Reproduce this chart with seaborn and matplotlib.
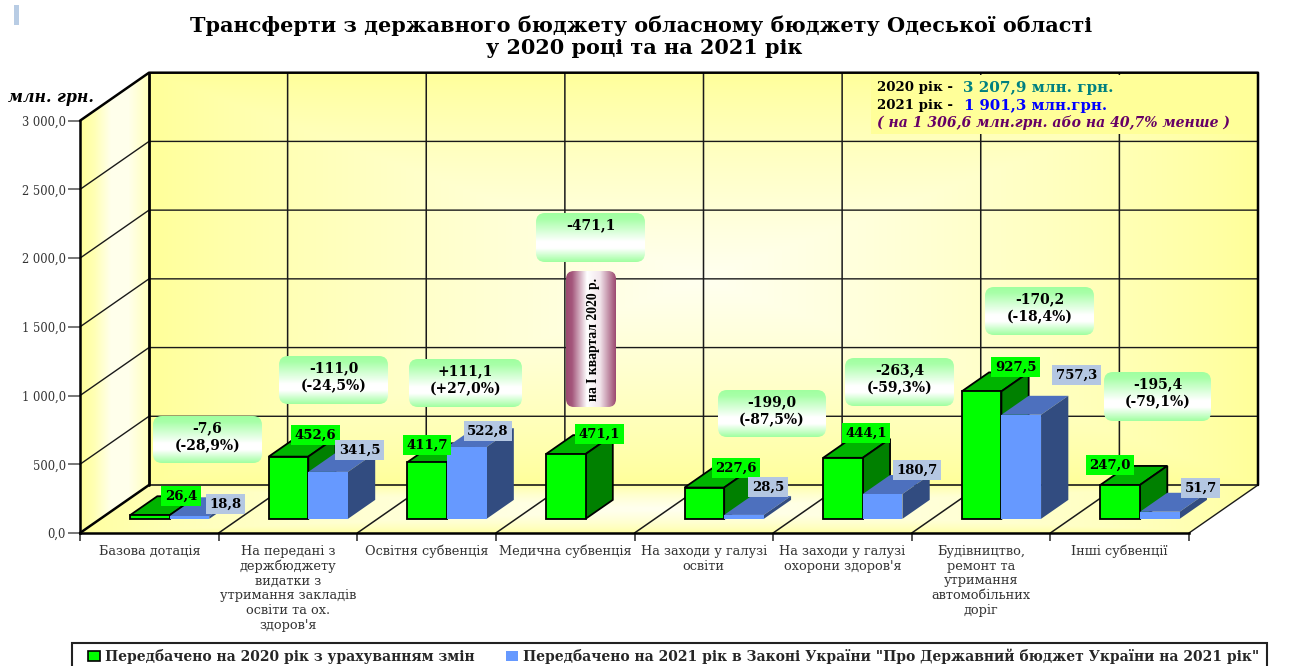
import numpy as np
import pandas as pd
import matplotlib
matplotlib.use("Agg")
import matplotlib.pyplot as plt
from matplotlib.colors import LinearSegmentedColormap
from matplotlib.patches import Polygon, FancyBboxPatch, Rectangle, Patch
import seaborn as sns

# ---------- data ----------
categories = [
    "Базова дотація",
    "На передані з\nдержбюджету\nвидатки з\nутримання закладів\nосвіти та ох.\nздоров'я",
    "Освітня субвенція",
    "Медична субвенція",
    "На заходи у галузі\nосвіти",
    "На заходи у галузі\nохорони здоров'я",
    "Будівництво,\nремонт та\nутримання\nавтомобільних\nдоріг",
    "Інші субвенції",
]
series_2020 = [26.4, 452.6, 411.7, 471.1, 227.6, 444.1, 927.5, 247.0]
series_2021 = [18.8, 341.5, 522.8, np.nan, 28.5, 180.7, 757.3, 51.7]
name_2020 = "Передбачено на 2020 рік з урахуванням змін"
name_2021 = 'Передбачено на 2021 рік в Законі України "Про Державний бюджет України на 2021 рік"'
y_ticks = [0, 500, 1000, 1500, 2000, 2500, 3000]
changes = ["-7,6\n(-28,9%)", "-111,0\n(-24,5%)", "+111,1\n(+27,0%)", "-471,1",
           "-199,0\n(-87,5%)", "-263,4\n(-59,3%)", "-170,2\n(-18,4%)", "-195,4\n(-79,1%)"]

# ---------- layout (pixels of the 1293x666 canvas) ----------
W, H = 1293, 666
AX_L, AX_R, AX_B, AX_T = 80, 1189, 533, 120.7
label_xy_2020 = [(181, 496), (315.5, 435), (427, 445), (599.5, 434),
                 (736, 468), (866, 433), (1015.5, 367), (1110, 465)]
label_xy_2021 = [(225.5, 504), (359.5, 450), (488, 431), None,
                 (768, 487), (917, 470), (1076.5, 375), (1200.5, 488)]
change_boxes = [(153, 416, 262, 463), (279, 356, 388, 404), (409, 359, 522, 407), (536, 213, 645, 262),
                (718, 390, 826, 437), (845, 358, 954, 406), (985, 287, 1094, 335), (1104, 372, 1211, 421)]

sns.set_theme(style="white")
plt.rcParams["font.family"] = ["DejaVu Serif"]

fig = plt.figure(figsize=(W / 100, H / 100), dpi=100, facecolor="white")
ax = fig.add_axes([AX_L / W, 1 - AX_B / H, (AX_R - AX_L) / W, (AX_B - AX_T) / H])
ax.patch.set_visible(False)

GREEN, BLUE = "#00FF00", "#6699FF"
df = pd.DataFrame({
    "cat": categories * 2,
    "val": series_2020 + series_2021,
    "ser": [name_2020] * 8 + [name_2021] * 8,
})
sns.barplot(data=df, x="cat", y="val", hue="ser", order=categories, hue_order=[name_2020, name_2021],
            palette=[GREEN, BLUE], width=0.572, errorbar=None, saturation=1, legend=False, ax=ax)

XMIN, XMAX, YMAX = -0.5, 7.5, 3000
DX = 69 / ((AX_R - AX_L) / 8)           # depth in category units
DY = 48 / ((AX_B - AX_T) / YMAX)        # depth in value units
D0, D1 = 0.295, 0.69                    # bar front and back depth


def wall(extent, grid, clip_pts, z=0):
    cmap = LinearSegmentedColormap.from_list("w", ["#FFFF99", "#FFFFF0"])
    im = ax.imshow(grid, extent=extent, origin="lower", aspect="auto", cmap=cmap, vmin=0, vmax=1,
                   zorder=z, interpolation="bilinear")
    poly = Polygon(clip_pts, closed=True, transform=ax.transData)
    im.set_clip_path(poly)
    im.set_clip_box(fig.bbox)


def path_grad(n=200, p=0.8):
    u = 1 - np.abs(np.linspace(-1, 1, n))
    uu, vv = np.meshgrid(u, u)
    return np.minimum(uu, vv) ** p


# back wall, side wall, floor
wall((XMIN + DX, XMAX + DX, DY, YMAX + DY), path_grad(),
     [(XMIN + DX, DY), (XMAX + DX, DY), (XMAX + DX, YMAX + DY), (XMIN + DX, YMAX + DY)])
side = np.tile(np.interp(np.linspace(0, 1, 100), [0, .2, .45, .7, .9, 1], [0.0, .3, .95, .95, .6, .4]), (2, 1))
wall((XMIN, XMIN + DX, 0, YMAX + DY), side,
     [(XMIN, 0), (XMIN + DX, DY), (XMIN + DX, YMAX + DY), (XMIN, YMAX)])
wall((XMIN, XMAX + DX, 0, DY), path_grad(p=0.55),
     [(XMIN, 0), (XMAX, 0), (XMAX + DX, DY), (XMIN + DX, DY)])

# grid on walls
glw, gc = 1.0, "#1a1a1a"
for v in y_ticks:
    if 0 < v < YMAX:
        ax.plot([XMIN, XMIN + DX, XMAX + DX], [v, v + DY, v + DY], color=gc, lw=glw, zorder=1, clip_on=False)
for i in range(1, 8):
    x = XMIN + i
    ax.plot([x, x + DX, x + DX], [0, DY, YMAX + DY], color=gc, lw=1.1, zorder=1, clip_on=False)
ax.plot([XMAX, XMAX + DX], [0, DY], color=gc, lw=glw, zorder=1, clip_on=False)
ax.plot([XMIN + DX, XMAX + DX], [DY, DY], color=gc, lw=1.2, zorder=1, clip_on=False)
ax.plot([XMIN, XMIN + DX, XMAX + DX, XMAX + DX], [YMAX, YMAX + DY, YMAX + DY, DY], color="black", lw=1.8,
        zorder=1.5, clip_on=False)
ax.plot([XMIN + DX, XMIN + DX], [DY, YMAX + DY], color="black", lw=2.0, zorder=1.5, clip_on=False)
ax.plot([XMIN, XMIN + DX], [0, DY], color="black", lw=1.8, zorder=1.5, clip_on=False)

# 3D bars: the seaborn bars become the front faces
for p in list(ax.patches):
    h = p.get_height()
    if not np.isfinite(h) or h <= 0:
        p.set_visible(False)
        continue
    is_green = matplotlib.colors.to_hex(p.get_facecolor()) == GREEN.lower()
    x0, w = p.get_x(), p.get_width()
    y0 = D0 * DY
    x = x0 + D0 * DX
    p.set_x(x)
    p.set_y(y0)
    p.set_clip_on(False)
    dx, dy = (D1 - D0) * DX, (D1 - D0) * DY
    z = 5 if is_green else 6
    top_c, side_c = ("#00B400", "#008000") if is_green else ("#4D70BE", "#324C80")
    ec, lw = ("black", 1.3) if is_green else ("none", 0)
    top = Polygon([(x, y0 + h), (x + w, y0 + h), (x + w + dx, y0 + h + dy), (x + dx, y0 + h + dy)],
                  fc=top_c, ec=ec, lw=lw, zorder=z, clip_on=False)
    sd = Polygon([(x + w, y0), (x + w + dx, y0 + dy), (x + w + dx, y0 + h + dy), (x + w, y0 + h)],
                 fc=side_c, ec=ec, lw=lw, zorder=z, clip_on=False)
    ax.add_patch(top)
    ax.add_patch(sd)
    p.set_edgecolor(ec)
    p.set_linewidth(lw)
    p.set_zorder(z + 0.1)

# axes
ax.set_xlim(XMIN, XMAX)
ax.set_ylim(0, YMAX)
ax.set_xlabel("")
ax.set_ylabel("")
ax.set_yticks(y_ticks, [f"{v:,.1f}".replace(",", " ").replace(".", ",") for v in y_ticks],
              fontsize=8.3, color="#333333")
ax.set_xticks(np.arange(XMIN, XMAX + 1), labels=[])
ax.set_xticks(range(8), categories, minor=True, fontsize=9.3, color="#333333", linespacing=1.17, va="top")
ax.tick_params(axis="y", which="major", length=8.5, width=1.4, color="#777777", pad=1.5, left=True)
ax.tick_params(axis="x", which="major", length=6, width=1.4, color="#555555", bottom=True)
ax.tick_params(axis="x", which="minor", length=0, pad=8.5, bottom=False)
ax.spines["top"].set_visible(False)
ax.spines["right"].set_visible(False)
for s in ("left", "bottom"):
    ax.spines[s].set_linewidth(1.8)
    ax.spines[s].set_color("black")

# overlay in canvas pixels for callouts and notes
ov = fig.add_axes([0, 0, 1, 1], zorder=10)
ov.patch.set_visible(False)
ov.axis("off")


def grad_box(x0, y0, x1, y1, colors, horizontal=False, r=9):
    cmap = LinearSegmentedColormap.from_list("g", colors)
    g = np.linspace(0, 1, 200)
    g = g[None, :] if horizontal else g[:, None]
    im = ov.imshow(g, extent=(x0, x1, y1, y0), cmap=cmap, aspect="auto", zorder=2, origin="upper")
    clip = FancyBboxPatch((x0 + r, y0 + r), x1 - x0 - 2 * r, y1 - y0 - 2 * r,
                          boxstyle=f"round,pad={r},rounding_size={r}", transform=ov.transData)
    im.set_clip_path(clip)
    im.set_clip_box(fig.bbox)


BOLD = dict(fontweight="bold", color="black", zorder=5)
callout_stops = [(0, "#A0FFA0"), (0.12, "#A8FFA8"), (0.58, "#FFFFFF"), (0.72, "#FFFFFF"), (1, "#A0FFA0")]
for box, txt in zip(change_boxes, changes):
    x0, y0, x1, y1 = box
    grad_box(x0, y0, x1, y1, callout_stops)
    ov.text((x0 + x1) / 2, y0 + 12.5, txt.split("\n")[0], ha="center", va="center", fontsize=10.0, **BOLD)
    if "\n" in txt:
        ov.text((x0 + x1) / 2, y0 + 30, txt.split("\n")[1], ha="center", va="center", fontsize=10.0, **BOLD)

pill_stops = [(0, "#9C4A70"), (0.12, "#A4577C"), (0.42, "#FFFFFF"), (0.68, "#F2E6EC"), (1, "#9C4A70")]
grad_box(566, 271, 616, 407, pill_stops, horizontal=True, r=8)
ov.text(594, 339, "на І квартал 2020 р.", rotation=90, ha="center", va="center", fontsize=9.8,
        fontweight="bold", family="Liberation Serif", color="black", zorder=5)


def fmt(v):
    return f"{v:.1f}".replace(".", ",")


for vals, xy, col in ((series_2020, label_xy_2020, GREEN), (series_2021, label_xy_2021, "#B4C7E2")):
    for v, pos in zip(vals, xy):
        if pos is not None:
            ov.text(pos[0], pos[1], fmt(v), ha="center", va="center", fontsize=9.5,
                    bbox=dict(fc=col, ec="none", pad=2.5), **BOLD)

# note box
ov.add_patch(Rectangle((871, 75), 382, 59, fc="#FFFF99", ec="none", zorder=1))
ov.text(877, 88, "2020 рік - ", fontsize=9.6, ha="left", va="center", **BOLD)
ov.text(963, 88, "3 207,9 млн. грн.", fontsize=10.9, ha="left", va="center", fontweight="bold", color="#008080", zorder=5)
ov.text(877, 106, "2021 рік - ", fontsize=9.6, ha="left", va="center", **BOLD)
ov.text(964, 106, "1 901,3 млн.грн.", fontsize=10.7, ha="left", va="center", fontweight="bold", color="#0000FF", zorder=5)
ov.text(877, 123, "( на 1 306,6 млн.грн. або на 40,7% менше )", fontsize=10.05, ha="left", va="center",
        fontweight="bold", fontstyle="italic", color="#660066", zorder=5)
ov.text(8, 97, "млн. грн.", fontsize=11.3, ha="left", va="center", fontweight="bold", fontstyle="italic",
        color="black", zorder=5)

# title and corner mark
ov.text(641, 26, "Трансферти з державного бюджету обласному бюджету Одеської області", ha="center", va="center",
        fontsize=14.95, fontweight="bold", color="black")
ov.text(644, 48, "у 2020 році та на 2021 рік", ha="center", va="center", fontsize=14.95, fontweight="bold",
        color="black")
ov.add_patch(Rectangle((14, 5), 5, 20, fc="#B8CCE4", ec="none"))

# legend with a frame that runs past the bottom edge
ov.add_patch(Rectangle((72, 642.7), 1195, 40, fc="white", ec="#222222", lw=1.5, zorder=1))
ov.set_xlim(0, W)
ov.set_ylim(H, 0)

handles = [Patch(fc=GREEN, ec="black", lw=1.2), Patch(fc=BLUE, ec="none")]
leg = ov.legend(handles, [name_2020, name_2021], loc="upper left", bbox_to_anchor=(88 / W, 1 - 648.5 / H), ncol=2,
                frameon=False, prop=dict(weight="bold", size=10.03, family="DejaVu Serif"),
                handlelength=0.87, handleheight=0.8, handletextpad=0.38, columnspacing=2.2,
                borderpad=0, borderaxespad=0)
leg.set_zorder(6)

fig.savefig("out.png", dpi=100)
